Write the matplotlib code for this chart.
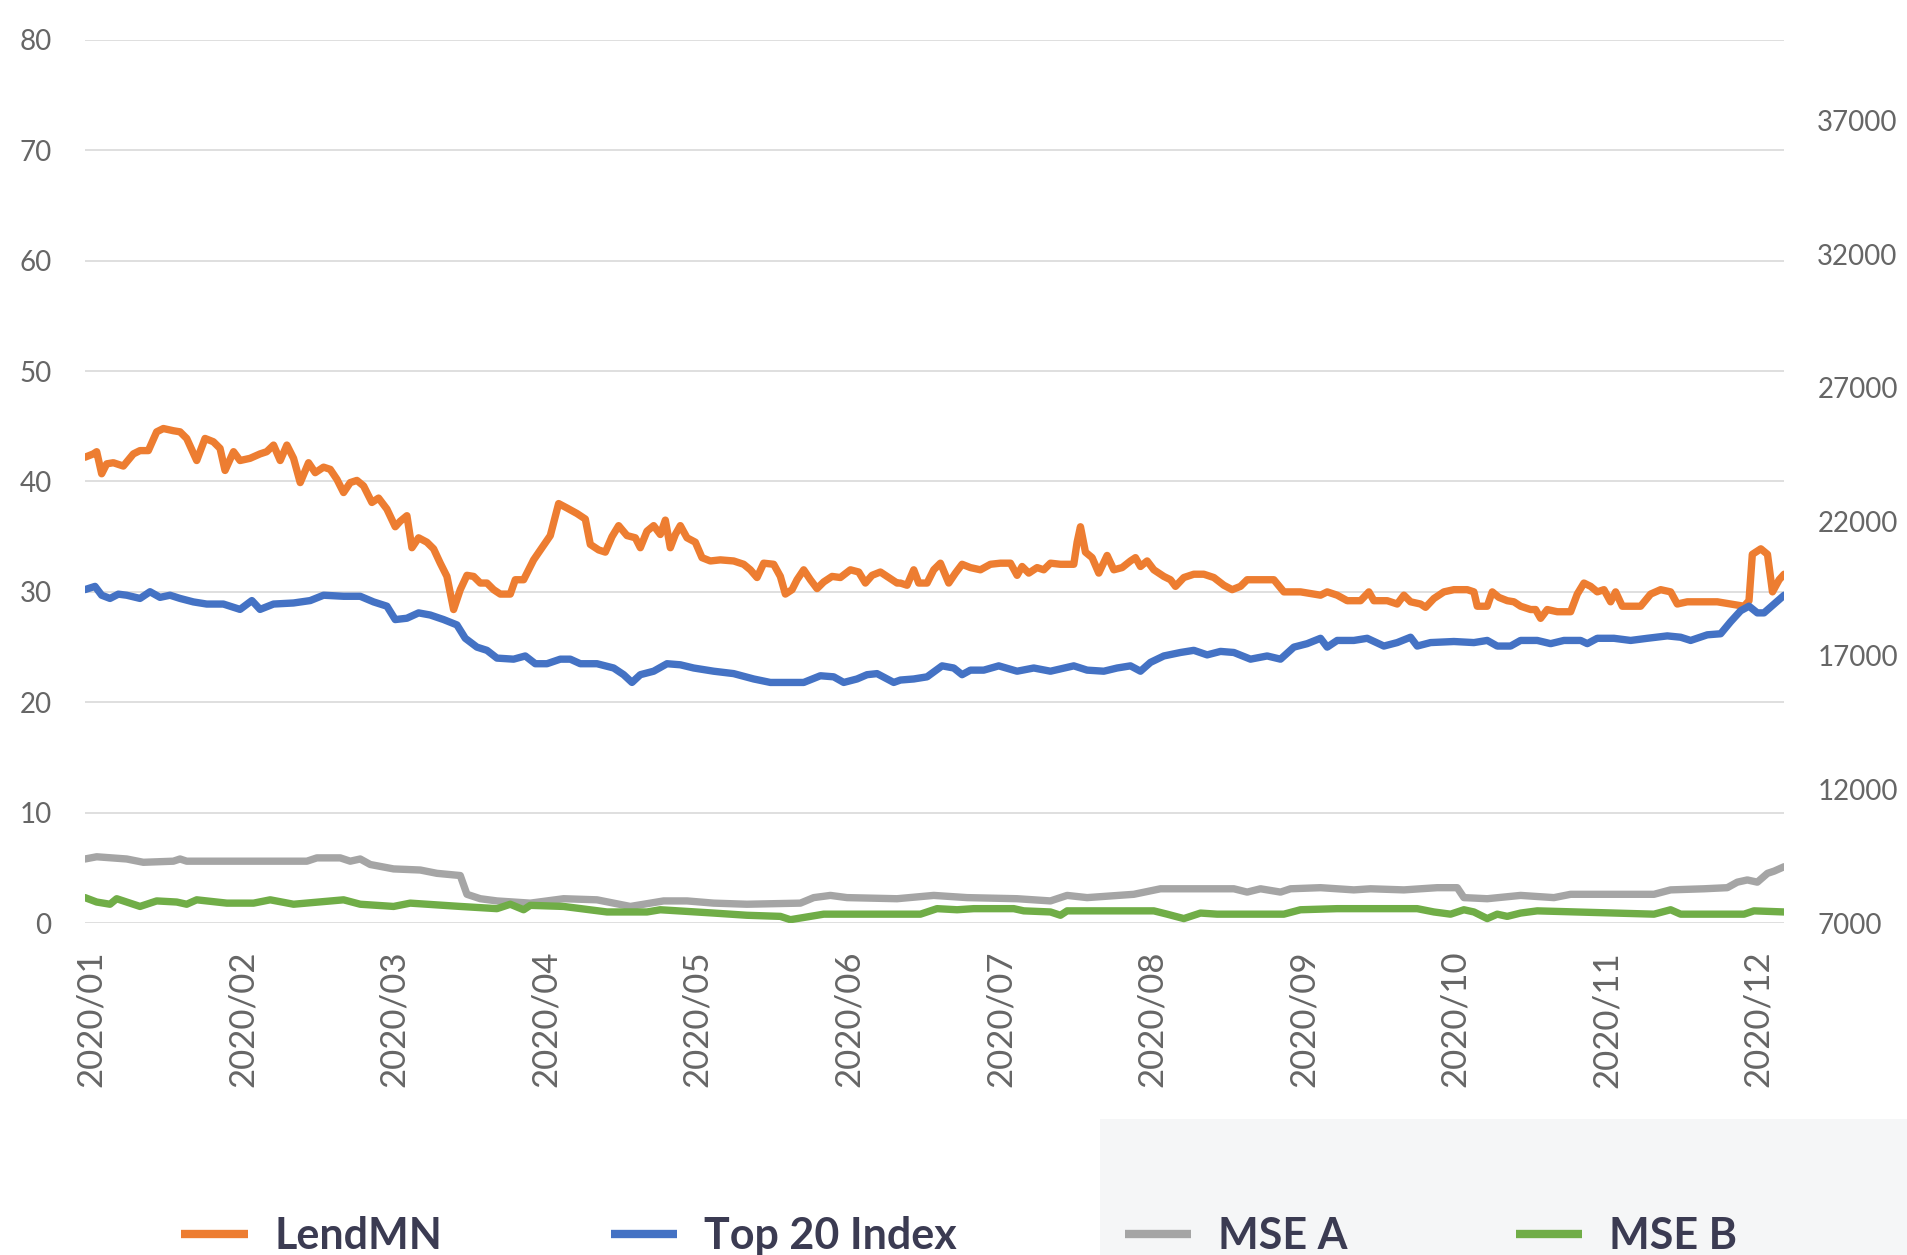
import matplotlib.pyplot as plt
from matplotlib.lines import Line2D
from matplotlib.patches import Rectangle

# x positions are in months after 2020/01 (0 = Jan, 11 = Dec)
month_labels = ["2020/01", "2020/02", "2020/03", "2020/04", "2020/05", "2020/06",
                "2020/07", "2020/08", "2020/09", "2020/10", "2020/11", "2020/12"]
left_ticks = [0, 10, 20, 30, 40, 50, 60, 70, 80]
right_ticks = [7000, 12000, 17000, 22000, 27000, 32000, 37000]

# LendMN share price (left axis)
lend_x = [-0.040, 0.015, 0.037, 0.070, 0.103, 0.147, 0.213, 0.279, 0.323, 0.378,
          0.433, 0.477, 0.543, 0.587, 0.631, 0.697, 0.752, 0.807, 0.851, 0.884,
          0.940, 0.983, 1.049, 1.115, 1.159, 1.204, 1.248, 1.292, 1.336, 1.380,
          1.435, 1.479, 1.534, 1.578, 1.622, 1.666, 1.710, 1.754, 1.798, 1.853,
          1.897, 1.952, 2.007, 2.040, 2.084, 2.117, 2.161, 2.216, 2.260, 2.304,
          2.348, 2.392, 2.436, 2.480, 2.524, 2.568, 2.612, 2.656, 2.700,
          2.766, 2.799, 2.854, 2.920, 2.975, 3.030, 3.085, 3.140, 3.206, 3.261,
          3.294, 3.349, 3.393, 3.437, 3.481, 3.536, 3.591, 3.624, 3.668, 3.712,
          3.756, 3.789, 3.822, 3.855, 3.888, 3.932, 3.987, 4.031, 4.086, 4.152,
          4.240, 4.306, 4.350, 4.394, 4.438, 4.504, 4.548, 4.581, 4.625, 4.658,
          4.702, 4.746, 4.790, 4.834, 4.889, 4.944, 5.010, 5.065, 5.109, 5.153,
          5.208, 5.263, 5.318,
          5.340, 5.384, 5.428, 5.461, 5.516, 5.560, 5.604, 5.659, 5.703, 5.747,
          5.802, 5.868, 5.934, 6.000, 6.066, 6.110, 6.143, 6.187, 6.242, 6.286,
          6.330, 6.396, 6.484, 6.506, 6.528, 6.561, 6.605, 6.649, 6.704, 6.748,
          6.803, 6.858, 6.891, 6.924, 6.968, 7.012, 7.078, 7.122, 7.155, 7.210,
          7.276, 7.342, 7.408, 7.474, 7.529, 7.584, 7.628, 7.716, 7.804, 7.870,
          7.980, 8.068,
          8.112, 8.156, 8.222, 8.288, 8.376, 8.431, 8.464, 8.552, 8.618, 8.662,
          8.706, 8.772, 8.805, 8.860, 8.926, 8.992, 9.080, 9.124, 9.146, 9.212,
          9.245, 9.289, 9.344, 9.388, 9.432, 9.498, 9.531, 9.564, 9.608, 9.674,
          9.762, 9.806, 9.850, 9.894, 9.938, 9.982, 10.026, 10.059, 10.103, 10.158,
          10.224, 10.290, 10.356, 10.422, 10.466, 10.532, 10.620, 10.730, 10.818, 10.906,
          10.939, 10.961, 11.017, 11.061, 11.094, 11.138, 11.171]
lend_y = [42.2, 42.5, 42.7, 40.7, 41.6, 41.7, 41.4, 42.5, 42.8, 42.8,
          44.5, 44.8, 44.6, 44.5, 43.9, 41.9, 43.9, 43.6, 43.0, 41.0,
          42.7, 41.9, 42.1, 42.5, 42.7, 43.3, 41.9, 43.3, 42.1, 39.9,
          41.7, 40.8, 41.3, 41.1, 40.2, 39.0, 39.9, 40.1, 39.6, 38.1,
          38.5, 37.5, 35.9, 36.4, 36.9, 34.0, 34.9, 34.5, 33.9, 32.6,
          31.4, 28.4, 30.2, 31.5, 31.4, 30.8, 30.8, 30.2, 29.8,
          29.8, 31.1, 31.1, 32.9, 34.0, 35.1, 38.0, 37.6, 37.1, 36.6,
          34.3, 33.8, 33.6, 35.0, 36.0, 35.1, 34.9, 34.0, 35.5, 36.0,
          35.2, 36.5, 34.0, 35.2, 36.0, 34.9, 34.5, 33.1, 32.8, 32.9,
          32.8, 32.5, 32.0, 31.3, 32.6, 32.5, 31.4, 29.8, 30.2, 31.1,
          32.0, 31.1, 30.3, 30.9, 31.4, 31.3, 32.0, 31.8, 30.8, 31.5,
          31.8, 31.3, 30.8,
          30.8, 30.6, 32.0, 30.8, 30.8, 32.0, 32.6, 30.8, 31.7, 32.5,
          32.2, 32.0, 32.5, 32.6, 32.6, 31.5, 32.3, 31.7, 32.2, 32.0,
          32.6, 32.5, 32.5, 34.5, 35.9, 33.6, 33.1, 31.7, 33.3, 32.0,
          32.2, 32.8, 33.1, 32.3, 32.8, 32.0, 31.4, 31.1, 30.5, 31.3,
          31.6, 31.6, 31.3, 30.6, 30.2, 30.5, 31.1, 31.1, 31.1, 30.0,
          30.0, 29.8,
          29.7, 30.0, 29.7, 29.2, 29.2, 30.0, 29.2, 29.2, 28.9, 29.7,
          29.1, 28.9, 28.6, 29.4, 30.0, 30.2, 30.2, 30.0, 28.7, 28.7,
          30.0, 29.5, 29.2, 29.1, 28.7, 28.4, 28.4, 27.6, 28.4, 28.2,
          28.2, 29.8, 30.8, 30.5, 30.0, 30.2, 29.1, 30.0, 28.7, 28.7,
          28.7, 29.8, 30.2, 30.0, 28.9, 29.1, 29.1, 29.1, 28.9, 28.7,
          29.2, 33.4, 33.9, 33.4, 30.0, 31.1, 31.6]

# MSE Top 20 index (right axis)
top20_x = [-0.040, 0.026, 0.070, 0.125, 0.180, 0.235, 0.323, 0.389, 0.455, 0.521,
           0.587, 0.675, 0.763, 0.873, 0.983, 1.061, 1.115, 1.204, 1.336, 1.446,
           1.534, 1.666, 1.776, 1.864, 1.952, 2.007, 2.084, 2.161, 2.238, 2.326,
           2.414, 2.469, 2.546, 2.612, 2.678,
           2.788, 2.865, 2.931, 3.008, 3.096, 3.162, 3.228, 3.338, 3.448, 3.514,
           3.569, 3.624, 3.712, 3.800, 3.888, 3.976, 4.108, 4.240, 4.372, 4.482,
           4.592, 4.702, 4.812, 4.900, 4.966, 5.054, 5.120, 5.186, 5.296,
           5.340, 5.428, 5.516, 5.615, 5.692, 5.747, 5.802, 5.890, 5.989, 6.110,
           6.220, 6.330, 6.484, 6.572, 6.682, 6.770, 6.858, 6.924, 6.990, 7.078,
           7.188, 7.276, 7.364, 7.452, 7.540, 7.650, 7.760, 7.848, 7.936, 8.024,
           8.112, 8.156, 8.222, 8.332, 8.420, 8.530, 8.618, 8.706, 8.750, 8.838,
           8.992, 9.124, 9.212, 9.278, 9.366, 9.432, 9.542, 9.630, 9.718, 9.828,
           9.872, 9.938, 10.048, 10.158, 10.268, 10.400, 10.488, 10.554, 10.664, 10.752,
           10.818, 10.884, 10.939, 10.994, 11.038, 11.104, 11.171]
top20_y = [19460, 19580, 19250, 19130, 19290, 19250, 19130, 19380, 19170, 19250,
           19130, 19000, 18920, 18920, 18720, 19050, 18720, 18920, 18960, 19050,
           19250, 19210, 19210, 19000, 18840, 18340, 18390, 18590, 18510, 18340,
           18140, 17640, 17310, 17190, 16900,
           16860, 16980, 16690, 16690, 16860, 16860, 16690, 16690, 16530, 16280,
           15990, 16280, 16410, 16690, 16650, 16530, 16410, 16320, 16120, 15990,
           15990, 15990, 16240, 16200, 15990, 16120, 16280, 16320, 15990,
           16080, 16120, 16200, 16610, 16530, 16280, 16450, 16450, 16610, 16410,
           16530, 16410, 16610, 16450, 16410, 16530, 16610, 16410, 16740, 16980,
           17110, 17190, 17020, 17150, 17110, 16860, 16980, 16860, 17310, 17440,
           17640, 17310, 17560, 17560, 17640, 17350, 17480, 17680, 17350, 17480,
           17520, 17480, 17560, 17350, 17350, 17560, 17560, 17440, 17560, 17560,
           17440, 17640, 17640, 17560, 17640, 17730, 17680, 17560, 17770, 17810,
           18260, 18670, 18840, 18590, 18590, 18920, 19250]

# MSE A (left axis)
msea_x = [-0.040, 0.037, 0.235, 0.345, 0.543, 0.587, 0.631, 0.896, 1.424, 1.490,
          1.644, 1.710, 1.776, 1.842, 1.996, 2.172, 2.282, 2.436, 2.480, 2.568,
          2.678, 2.898, 3.118, 3.338, 3.558, 3.778, 3.932, 4.108, 4.328, 4.680,
          4.768, 4.878, 4.988, 5.318, 5.560, 5.780, 6.110, 6.330, 6.440, 6.572,
          6.880, 7.056, 7.540, 7.628, 7.716, 7.848, 7.914, 8.112, 8.332, 8.442,
          8.662, 8.882, 9.014, 9.058, 9.212, 9.432, 9.652, 9.762, 10.312, 10.422,
          10.642, 10.796, 10.862, 10.928, 10.994, 11.061, 11.105, 11.171]
msea_y = [5.8, 6.0, 5.8, 5.5, 5.6, 5.8, 5.6, 5.6, 5.6, 5.9,
          5.9, 5.6, 5.8, 5.3, 4.9, 4.8, 4.5, 4.3, 2.6, 2.2,
          2.0, 1.8, 2.2, 2.1, 1.5, 2.0, 2.0, 1.8, 1.7, 1.8,
          2.3, 2.5, 2.3, 2.2, 2.5, 2.3, 2.2, 2.0, 2.5, 2.3,
          2.6, 3.1, 3.1, 2.8, 3.1, 2.8, 3.1, 3.2, 3.0, 3.1,
          3.0, 3.2, 3.2, 2.3, 2.2, 2.5, 2.3, 2.6, 2.6, 3.0,
          3.1, 3.2, 3.7, 3.9, 3.7, 4.5, 4.7, 5.1]

# MSE B (left axis)
mseb_x = [-0.040, 0.037, 0.125, 0.169, 0.235, 0.323, 0.433, 0.565, 0.631, 0.697,
          0.896, 1.072, 1.182, 1.336, 1.666, 1.776, 1.996, 2.106, 2.436, 2.678,
          2.766, 2.854, 2.898, 3.118, 3.404, 3.668, 3.756, 4.108, 4.328, 4.548,
          4.614, 4.834, 5.208, 5.472, 5.582, 5.714, 5.824, 6.088, 6.154, 6.330,
          6.396, 6.440, 7.012, 7.100, 7.210, 7.320, 7.430, 7.870, 7.980, 8.222,
          8.750, 8.860, 8.970, 9.058, 9.124, 9.212, 9.278, 9.344, 9.432, 9.542,
          10.312, 10.422, 10.488, 10.906, 10.972, 11.171]
mseb_y = [2.3, 1.9, 1.7, 2.2, 1.9, 1.5, 2.0, 1.9, 1.7, 2.1,
          1.8, 1.8, 2.1, 1.7, 2.1, 1.7, 1.5, 1.8, 1.5, 1.3,
          1.7, 1.2, 1.6, 1.5, 1.0, 1.0, 1.2, 0.9, 0.7, 0.6,
          0.3, 0.8, 0.8, 0.8, 1.3, 1.2, 1.3, 1.3, 1.1, 1.0,
          0.7, 1.1, 1.1, 0.8, 0.4, 0.9, 0.8, 0.8, 1.2, 1.3,
          1.3, 1.0, 0.8, 1.2, 1.0, 0.4, 0.8, 0.6, 0.9, 1.1,
          0.8, 1.2, 0.8, 0.8, 1.1, 1.0]

c_lend = "#ED7D31"
c_top20 = "#4472C4"
c_msea = "#A5A5A5"
c_mseb = "#70AD47"
tick_col = "#666666"

plt.rcParams['font.family'] = ['Lato', 'DejaVu Sans']

fig = plt.figure(figsize=(19.07, 12.55), dpi=100)
fig.patches.append(Rectangle((1100 / 1907, 0), 1 - 1100 / 1907, 136 / 1255,
                             transform=fig.transFigure, facecolor="#f5f6f7",
                             edgecolor="none", zorder=0))

ax = fig.add_axes([85 / 1907, 332 / 1255, 1699 / 1907, 883 / 1255])
ax2 = ax.twinx()

lw = 5.3
style = dict(lw=lw, solid_joinstyle="round", solid_capstyle="round")
ax.plot(*zip(*zip(msea_x, msea_y, strict=True)), color=c_msea, zorder=3, **style)
ax.plot(*zip(*zip(mseb_x, mseb_y, strict=True)), color=c_mseb, zorder=4, **style)
ax.plot(*zip(*zip(lend_x, lend_y, strict=True)), color=c_lend, zorder=5, **style)
ax2.plot(*zip(*zip(top20_x, top20_y, strict=True)), color=c_top20, **style)

ax.set_xlim(-0.04, 11.17)
ax.set_ylim(0, 80)
ax2.set_ylim(7000, 40000)
ax.set_yticks(left_ticks)
ax2.set_yticks(right_ticks)
ax.set_xticks(range(len(month_labels)))
ax.set_xticklabels(month_labels, rotation=90)

ax.grid(axis="y", color="#d9d9d9", lw=1.2)
ax.set_axisbelow(True)
for a in (ax, ax2):
    for s in a.spines.values():
        s.set_visible(False)
ax.tick_params(axis="y", length=0, pad=24, labelsize=20, labelcolor=tick_col)
ax2.tick_params(axis="y", length=0, pad=24, labelsize=20, labelcolor=tick_col)
ax.tick_params(axis="x", length=0, pad=20, labelsize=25, labelcolor=tick_col)

handles = [Line2D([], [], color=c, lw=6, solid_capstyle="butt")
           for c in (c_lend, c_top20, c_msea, c_mseb)]
fig.legend(handles, ["LendMN", "Top 20 Index", "MSE A", "MSE B"],
           loc="center", bbox_to_anchor=(0.503, 0.015), ncol=4, frameon=False,
           prop={"family": "Lato", "weight": "bold", "size": 31},
           labelcolor="#3b3b52", handlelength=1.55, handletextpad=0.62,
           columnspacing=3.9)

fig.savefig("out.png", dpi=100)
